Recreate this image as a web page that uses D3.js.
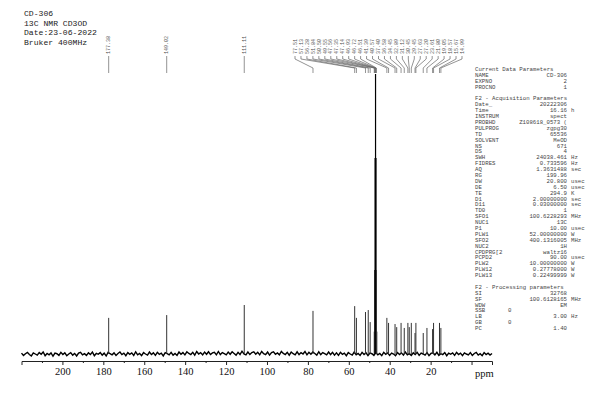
<!DOCTYPE html>
<html><head><meta charset="utf-8">
<script src="https://cdn.jsdelivr.net/npm/d3@7"></script>
<style>html,body{margin:0;padding:0;background:#fff;}svg{display:block;}</style>
</head><body>
<svg id="c" width="600" height="399"></svg>
<script>
// ---------------- DATA ----------------
const headerLines = ["CD-306", "13C NMR CD3OD", "Date:23-06-2022", "Bruker 400MHz"];

const peakPpm = [177.38, 149.02, 111.11, 77.51, 57.13, 56.28, 51.84, 50.50, 49.55,
  47.56, 47.35, 47.14, 46.93, 46.72, 46.51, 46.30,
  41.39, 40.57, 37.40, 36.58, 34.45, 32.89, 31.12, 30.45, 29.45, 27.63, 27.20,
  23.61, 21.80, 19.05, 18.57, 15.67, 14.99];
const peakIntensity = [12.9, 13.9, 17.5, 15.4, 17.1, 12.9, 15.0, 15.7, 11.4,
  8, 30, 70, 100, 70, 30, 8,
  12.9, 11.1, 10.7, 9.6, 11.1, 9.3, 11.1, 9.6, 11.1, 7.5, 11.1,
  7.5, 9.3, 8.9, 11.1, 11.1, 9.3];

const labelPpm = [177.38, 149.02, 111.11, 77.51, 57.13, 56.28, 51.84, 50.50, 49.55,
  47.56, 47.35, 47.14, 46.93, 46.72, 46.51,
  41.39, 40.57, 37.40, 36.58, 34.45, 32.89, 31.12, 30.45, 29.45, 27.63, 27.20,
  23.61, 21.80, 19.05, 18.57, 15.67, 14.99];

const noise = [
0.3,-0.5,0.1,0.6,-0.2,-0.7,0.4,0.0,-0.4,0.5,-0.1,0.7,-0.6,0.2,-0.3,0.4,-0.8,0.3,0.1,-0.5,
0.6,-0.2,0.4,-0.6,0.0,0.5,-0.4,0.2,-0.7,0.3,0.6,-0.3,0.1,-0.5,0.4,-0.2,0.7,-0.6,0.2,-0.1,
0.5,-0.4,0.3,-0.7,0.6,0.1,-0.3,0.4,-0.5,0.2,0.7,-0.2,0.3,-0.6,0.5,-0.1,0.4,-0.5,0.8,-0.3,
0.2,-0.6,0.5,0.0,-0.4,0.7,-0.2,0.4,-0.5,0.6,-0.1,0.3,-0.7,0.5,0.1,-0.3,0.6,-0.4,0.2,-0.5,
0.7,-0.1,0.5,-0.3,0.8,0.2,-0.2,0.6,-0.4,0.9,0.0,0.5,-0.3,0.7,-0.1,0.8,-0.2,0.4,0.6,-0.3,
0.9,-0.2,0.5,0.1,-0.3,0.7,-0.1,0.8,0.2,-0.4,0.6,-0.2,1.0,0.0,-0.3,0.7,-0.2,0.5,0.8,-0.1,
0.6,-0.3,0.9,0.1,-0.2,0.7,-0.4,0.5,0.8,-0.1,0.4,-0.3,0.9,0.2,-0.2,0.6,-0.4,0.7,0.1,-0.3,
0.8,-0.2,0.5,0.0,0.9,-0.3,0.6,-0.1,0.7,0.2,-0.4,0.8,-0.2,0.5,0.1,-0.3,0.7,-0.2,0.6,-0.4,
0.4,-0.5,0.6,-0.1,0.3,-0.6,0.5,0.0,-0.4,0.7,-0.3,0.2,-0.5,0.6,-0.2,0.4,-0.6,0.3,0.1,-0.5,
0.5,-0.3,0.2,-0.6,0.6,-0.1,0.4,-0.5,0.3,0.0,-0.6,0.5,-0.2,0.4,-0.4,0.7,-0.3,0.1,-0.5,0.4,
-0.2,0.6,-0.5,0.3,0.0,-0.4,0.5,-0.6,0.2,0.4,-0.3,0.6,-0.5,0.1,-0.2,0.5,-0.6,0.3,-0.1,0.4,
-0.5,0.6,-0.2,0.3,-0.6,0.4,0.0,-0.3,0.5,-0.5,0.2,0.6,-0.4,0.1,-0.6,0.5,-0.2,0.3,-0.4,0.2];

const majorTicks = [200, 180, 160, 140, 120, 100, 80, 60, 40, 20, 0];
const tickLabels = ["200", "180", "160", "140", "120", "100", "80", "60", "40", "20", ""];
const minorTicks = [210, 190, 170, 150, 130, 110, 90, 70, 50, 30, 10];
const axisTitle = "ppm";

const paramNames = ["Current Data Parameters","NAME","EXPNO","PROCNO","",
 "F2 - Acquisition Parameters","Date_","Time","INSTRUM","PROBHD","PULPROG","TD","SOLVENT","NS","DS",
 "SWH","FIDRES","AQ","RG","DW","DE","TE","D1","D11","TD0","SFO1","NUC1","P1","PLW1","SFO2","NUC2",
 "CPDPRG[2","PCPD2","PLW2","PLW12","PLW13","",
 "F2 - Processing parameters","SI","SF","WDW","SSB","LB","GB","PC"];
const paramValues = ["","CD-306","2","1","",
 "","20222306","16.16","spect","Z108618_0573 (","zgpg30","65536","MeOD","671","4",
 "24038.461","0.733596","1.3631488","199.96","20.800","6.50","294.9","2.00000000","0.03000000","1",
 "100.6228293","13C","10.00","52.00000000","400.1316005","1H",
 "waltz16","90.00","10.00000000","0.27778000","0.22499999","",
 "","32768","100.6128165","EM","0","3.00","0","1.40"];
const paramUnits = ["","","","","",
 "","","h","","","","","","","",
 "Hz","Hz","sec","","usec","usec","K","sec","sec","",
 "MHz","","usec","W","MHz","",
 "","usec","W","W","W","",
 "","","MHz","","","Hz","",""];

// ---------------- DRAW ----------------
const svg = d3.select("#c");
const x = d3.scaleLinear().domain([220, -10]).range([21.5, 492]);
const y = d3.scaleLinear().domain([0, 100]).range([354, 74]);
const axisY = 361;

// header
svg.append("g").selectAll("text").data(headerLines).join("text")
  .attr("x", 24).attr("y", (d, i) => 16 + i * 9.6)
  .attr("font-family", "Liberation Mono, monospace").attr("font-size", 8.1)
  .attr("fill", "#222").text(d => d);

// baseline noise
const noiseStep = (220 - (-10)) / (noise.length - 1);
const line = d3.line().x((d, i) => x(220 - i * noiseStep)).y(d => y(d));
svg.append("path").datum(noise).attr("d", line)
  .attr("fill", "none").attr("stroke", "#000").attr("stroke-width", 1.4);

// peaks
svg.append("g").selectAll("line").data(peakPpm).join("line")
  .attr("x1", d => x(d)).attr("x2", d => x(d))
  .attr("y1", y(0)).attr("y2", (d, i) => y(peakIntensity[i]))
  .attr("stroke", (d, i) => peakIntensity[i] > 50 ? "#000" : "#333")
  .attr("stroke-width", (d, i) => peakIntensity[i] > 50 ? 1.2 : 1);

// axis
const axisMajor = d3.axisBottom(x).tickValues(majorTicks)
  .tickFormat((d, i) => tickLabels[i]).tickSizeOuter(0).tickSize(4).tickPadding(3);
const gAx = svg.append("g").attr("transform", `translate(0,${axisY})`).call(axisMajor);
gAx.select(".domain").attr("stroke", "#222");
gAx.selectAll(".tick line").attr("stroke", "#222");
gAx.selectAll("text").attr("font-family", "Liberation Serif, serif").attr("font-size", 10.5).attr("fill", "#111");
const axisMinor = d3.axisBottom(x).tickValues(minorTicks).tickFormat("").tickSize(2).tickSizeOuter(0);
const gMin = svg.append("g").attr("transform", `translate(0,${axisY})`).call(axisMinor);
gMin.select(".domain").remove();
gMin.selectAll(".tick line").attr("stroke", "#222");
svg.append("text").attr("x", x(-6.2)).attr("y", 377)
  .attr("font-family", "Liberation Serif, serif").attr("font-size", 10.5).attr("fill", "#111")
  .attr("text-anchor", "middle").text(axisTitle);

// peak labels
const crowd = labelPpm.filter(d => d < 80);
const lx0 = 295, lx1 = 462;
const labelX = labelPpm.map(d => d < 80 ? lx0 + crowd.indexOf(d) * (lx1 - lx0) / (crowd.length - 1) : x(d));
const lab = svg.append("g");
lab.selectAll("text").data(labelPpm).join("text")
  .attr("transform", (d, i) => `translate(${labelX[i] + 1.7},54) rotate(-90)`)
  .attr("font-family", "Liberation Mono, monospace").attr("font-size", 5)
  .attr("fill", "#555").text(d => d.toFixed(2));
lab.selectAll("path").data(labelPpm).join("path")
  .attr("d", (d, i) => {
    const px = x(d), qx = labelX[i];
    return `M${qx},56 L${qx},59 L${px},68 L${px},73`;
  })
  .attr("fill", "none").attr("stroke", "#666").attr("stroke-width", 0.7);

// parameter block
const pg = svg.append("g").attr("font-family", "Liberation Mono, monospace")
  .attr("font-size", 5.7).attr("fill", "#444");
paramNames.forEach((n, i) => {
  const yy = 71 + i * 5.89;
  pg.append("text").attr("x", 475).attr("y", yy).text(n);
  if (paramValues[i]) {
    if (n === "SSB" || n === "GB")
      pg.append("text").attr("x", 508).attr("y", yy).text(paramValues[i]);
    else
      pg.append("text").attr("x", 567).attr("y", yy).attr("text-anchor", "end").text(paramValues[i]);
  }
  if (paramUnits[i]) pg.append("text").attr("x", 571).attr("y", yy).text(paramUnits[i]);
});
</script>
</body></html>
